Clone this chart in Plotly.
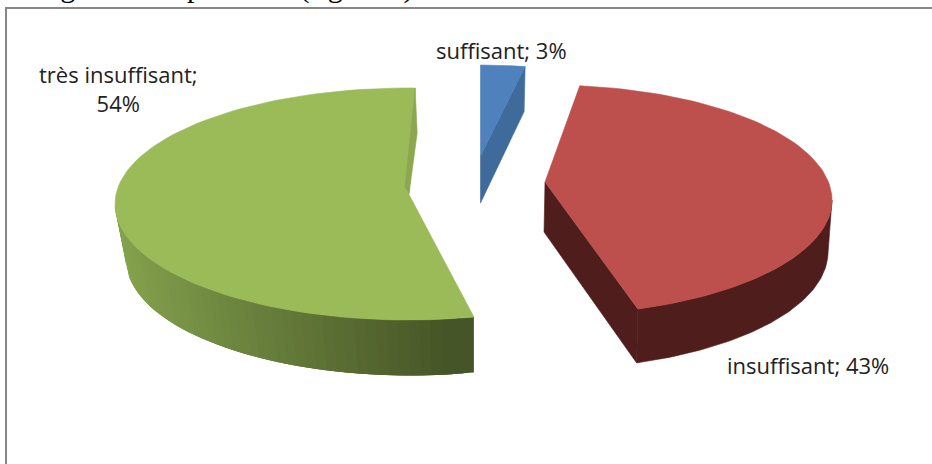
import math
import plotly.graph_objects as go

# ---- data ----
categories = ["suffisant", "insuffisant", "très insuffisant"]
percents = [3, 43, 54]

# ---- styling ----
top_colors = ["#4F81BD", "#BD4F4C", "#9BBB59"]
cut_colors = ["#3E6A9C", "#4F1E1C", "#8BA84F"]
side_colors = [None, "#4F1E1C", ("#86A44E", "#465527")]
label_lines = {
    "suffisant": "suffisant; 3%",
    "insuffisant": "insuffisant; 43%",
    "très insuffisant": "très insuffisant;<br>54%",
}
label_pos = {"suffisant": (501, 50), "insuffisant": (808, 365), "très insuffisant": (118, 88)}
FONT = "Open Sans"
CAPTION = "Diagramme à pourcent (figure 1)"

# ---- projection of each exploded slice on the page ----
geom = {
    "suffisant": dict(c=(480.5, 156), a=238, b=91, start=0, apex=(480.5, 156)),
    "insuffisant": dict(c=(547, 200), a=285, b=115, start=6.6, apex=(545, 182),
                        c2=(547, 252), a2=281, b2=117),
    "très insuffisant": dict(c=(408, 204), a=293, b=116, start=167, apex=(405, 187),
                             c2=(410, 259.5), a2=284, b2=116),
}


def pt(center, a, b, deg):
    t = math.radians(deg)
    return center[0] + a * math.sin(t), center[1] - b * math.cos(t)


def arc(center, a, b, d0, d1, n=90):
    return [pt(center, a, b, d0 + (d1 - d0) * i / n) for i in range(n + 1)]


def mix(c0, c1, t):
    v0 = [int(c0[i:i + 2], 16) for i in (1, 3, 5)]
    v1 = [int(c1[i:i + 2], 16) for i in (1, 3, 5)]
    return "rgb(%d,%d,%d)" % tuple(round(p + (q - p) * t) for p, q in zip(v0, v1))


fig = go.Figure()


def poly(points, color, name, width=0.6):
    xs = [p[0] for p in points] + [points[0][0]]
    ys = [p[1] for p in points] + [points[0][1]]
    fig.add_trace(go.Scatter(x=xs, y=ys, mode="lines", fill="toself", fillcolor=color,
                             line=dict(color=color, width=width), hoverinfo="skip",
                             showlegend=False, name=name))


spans = {c: p * 3.6 for c, p in zip(categories, percents)}

# très insuffisant: shaded outer wall, then top, then the sliver of its cut face
name = "très insuffisant"
g = geom[name]
end = g["start"] + spans[name]
N = 48
top_edge = arc(g["c"], g["a"], g["b"], g["start"], 270, N)
bot_edge = arc(g["c2"], g["a2"], g["b2"], g["start"], 270, N)
c0, c1 = side_colors[2]
x_left, x_right = bot_edge[-1][0], bot_edge[0][0]
# painted from the left-hand end backwards, each band running under its neighbour, so no seams show
for i in range(N - 1, -1, -1):
    tx = (bot_edge[i][0] - x_left) / (x_right - x_left)
    j = min(i + 3, N)
    poly(top_edge[i:j + 1] + bot_edge[i:j + 1][::-1], mix(c0, c1, tx), name, width=0)
poly(arc(g["c"], g["a"], g["b"], g["start"], end) + [(409, 193), g["apex"]], top_colors[2], name)
corner = pt(g["c"], g["a"], g["b"], end)
poly([corner, (corner[0] + 2, corner[1] + 45), (409, 194), g["apex"]], cut_colors[2], name)

# insuffisant: outer wall, cut face, top
name = "insuffisant"
g = geom[name]
end = g["start"] + spans[name]
wall = arc(g["c"], g["a"], g["b"], 90, end) + arc(g["c2"], g["a2"], g["b2"], end, 90)
poly(wall, side_colors[1], name)
corner_t = pt(g["c"], g["a"], g["b"], end)
corner_b = pt(g["c2"], g["a2"], g["b2"], end)
poly([g["apex"], corner_t, corner_b, (g["apex"][0] - 1, g["apex"][1] + 50)], cut_colors[1], name)
poly(arc(g["c"], g["a"], g["b"], g["start"], end) + [g["apex"]], top_colors[1], name)

# suffisant: cut face, top
name = "suffisant"
g = geom[name]
end = g["start"] + spans[name]
corner = pt(g["c"], g["a"], g["b"], end)
poly([corner, (corner[0] - 1, corner[1] + 45), (g["apex"][0], g["apex"][1] + 47), g["apex"]],
     cut_colors[0], name)
poly(arc(g["c"], g["a"], g["b"], g["start"], end, 20) + [g["apex"]], top_colors[0], name)

annotations = [
    dict(x=label_pos[c][0], y=label_pos[c][1], xref="x", yref="y", text=label_lines[c],
         showarrow=False, align="center", xanchor="center", yanchor="middle",
         font=dict(family=FONT, size=22, color="#222222"))
    for c in categories
]
annotations.append(dict(x=15, y=6.5, xref="x", yref="y", text=CAPTION, showarrow=False,
                        xanchor="left", yanchor="bottom",
                        font=dict(family="Liberation Serif", size=30, color="#000000")))

fig.update_layout(
    width=932, height=464, margin=dict(l=0, r=0, t=0, b=0),
    paper_bgcolor="#ffffff", plot_bgcolor="#ffffff", showlegend=False,
    xaxis=dict(range=[0, 932], visible=False, fixedrange=True),
    yaxis=dict(range=[464, 0], visible=False, fixedrange=True),
    annotations=annotations,
    shapes=[
        dict(type="line", xref="x", yref="y", x0=6, x1=6, y0=7, y1=464,
             line=dict(color="#868686", width=2)),
        dict(type="line", xref="x", yref="y", x0=5, x1=932, y0=8, y1=8,
             line=dict(color="#868686", width=2)),
    ],
)

fig.write_html("out.html", config={"displayModeBar": False},
               post_script="document.body.style.margin='0';document.body.style.overflow='hidden';")
